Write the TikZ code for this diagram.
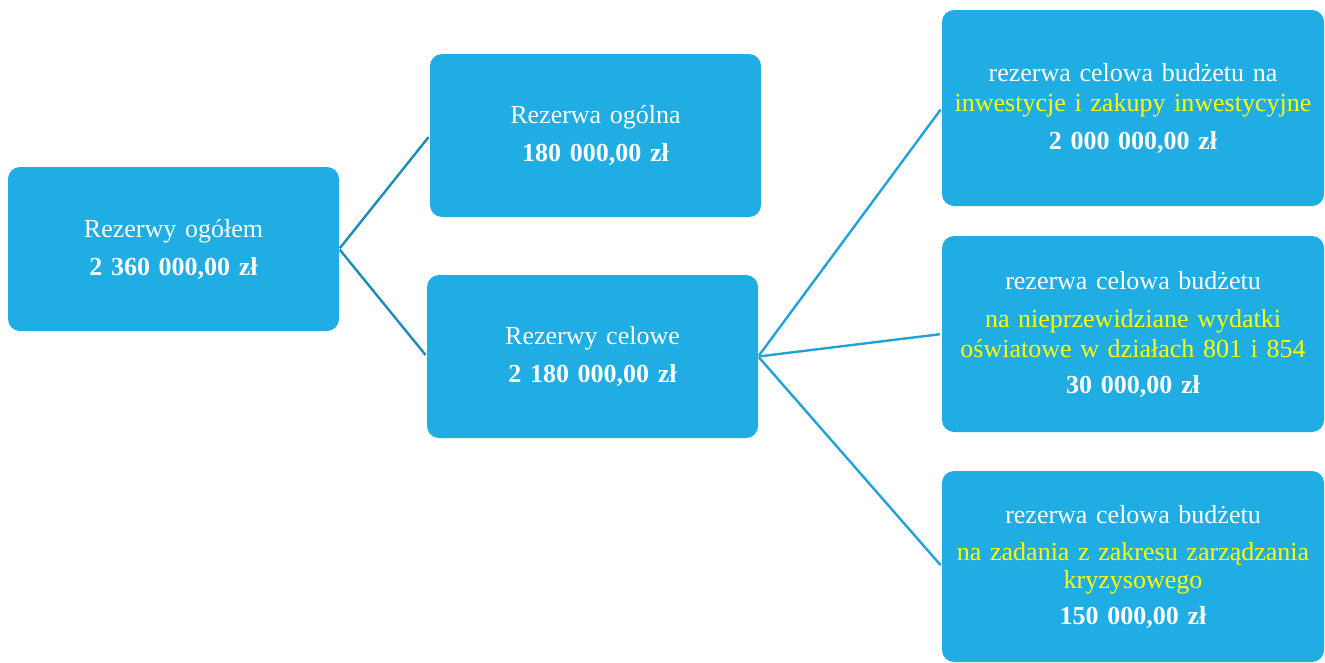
\documentclass[tikz,border=0pt]{standalone}
\usepackage{fontspec}
\setmainfont{Liberation Serif}
\definecolor{boxblue}{HTML}{1FADE3}
\definecolor{lineone}{HTML}{1A8DB9}
\definecolor{linetwo}{HTML}{1FA3D9}
\definecolor{hiyellow}{HTML}{FFFF00}
\begin{document}
\begin{tikzpicture}[x=1pt,y=-1pt,
  box/.style={fill=boxblue, draw=none, rounded corners=12pt, inner sep=0pt,
    align=center, text=white, font=\fontsize{26}{30}\selectfont},
  small/.style={box, text width=331pt, minimum height=163pt},
  big/.style={box, text width=382pt, minimum height=196pt},
  linkA/.style={draw=lineone, line width=2.4pt, shorten >=2pt, shorten <=1pt},
  linkB/.style={draw=linetwo, line width=2.4pt, shorten >=2pt, shorten <=1pt}]
\useasboundingbox (0,0) rectangle (1325,662);
\node[small, minimum height=164pt] (A) at (173.5,249) {Rezerwy ogółem\\[8pt]\textbf{2 360 000,00 zł}};
\node[small] (B) at (595.5,135.5) {Rezerwa ogólna\\[8pt]\textbf{180 000,00 zł}};
\node[small] (C) at (592.5,356.5) {Rezerwy celowe\\[8pt]\textbf{2 180 000,00 zł}};
\node[big] (D) at (1133,108) {rezerwa celowa budżetu na\\\textcolor{hiyellow}{inwestycje i zakupy inwestycyjne}\\[8pt]\textbf{2 000 000,00 zł}};
\node[big] (E) at (1133,334) {rezerwa celowa budżetu\\[8pt]\textcolor{hiyellow}{na nieprzewidziane wydatki}\\\textcolor{hiyellow}{oświatowe w działach 801 i 854}\\[6pt]\textbf{30 000,00 zł}};
\node[big, minimum height=191pt] (F) at (1133,566.5) {rezerwa celowa budżetu\\[7pt]\textcolor{hiyellow}{na zadania z zakresu zarządzania}\\[-2pt]\textcolor{hiyellow}{kryzysowego}\\[6pt]\textbf{150 000,00 zł}};
\draw[linkA] (A.east) -- (B.west);
\draw[linkA] (A.east) -- (C.west);
\draw[linkB] (C.east) -- (D.west);
\draw[linkB] (C.east) -- (E.west);
\draw[linkB] (C.east) -- (F.west);
\end{tikzpicture}
\end{document}
